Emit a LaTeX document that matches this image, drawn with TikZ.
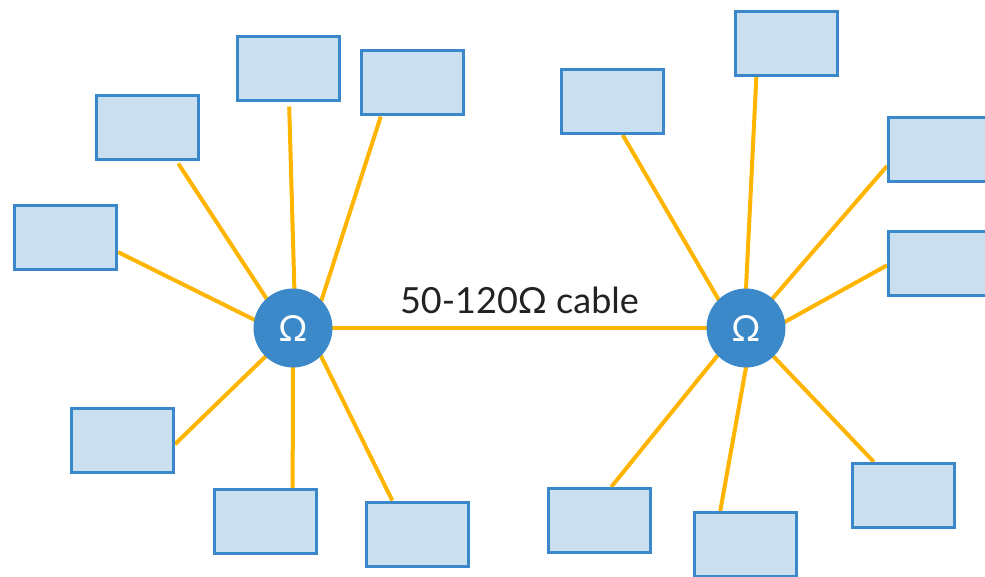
\documentclass[tikz,border=0pt]{standalone}
\usepackage{fontspec}
\setmainfont{Lato}
\pgfdeclarelayer{bg}
\pgfsetlayers{bg,main}
\definecolor{boxfill}{RGB}{202,223,239}
\definecolor{boxline}{RGB}{58,136,201}
\definecolor{hubblue}{RGB}{59,137,201}
\definecolor{wire}{RGB}{255,180,0}
\definecolor{ink}{RGB}{34,34,34}
\tikzset{
  device/.style={rectangle, draw=boxline, fill=boxfill, line width=3pt,
    minimum width=102pt, minimum height=64pt, inner sep=0pt},
  hub/.style={circle, fill=hubblue, minimum size=79pt, inner sep=0pt,
    outer sep=0pt, text=white, font=\fontsize{36}{36}\selectfont},
  wireline/.style={draw=wire, line width=4pt},
}
\begin{document}
\begin{tikzpicture}[x=1pt, y=-1pt]
\useasboundingbox (0,0) rectangle (985,577);

% hubs
\node[hub] (hL) at (293,328) {Ω};
\node[hub] (hR) at (746,328) {Ω};

% left cluster
\node[device] (a) at (65.5,238) {};
\node[device] (b) at (147.5,127.5) {};
\node[device] (c) at (288.5,69) {};
\node[device] (d) at (412,83) {};
\node[device] (e) at (122.5,440.5) {};
\node[device] (f) at (265.5,521.5) {};
\node[device] (g) at (417.5,534) {};

% right cluster
\node[device] (h) at (612.5,101.5) {};
\node[device] (i) at (786.5,43.5) {};
\node[device] (j) at (939.5,150) {};
\node[device] (k) at (939.5,263.5) {};
\node[device] (l) at (599,520.5) {};
\node[device] (m) at (745.5,544.5) {};
\node[device] (n) at (903,495.5) {};

% cable label
\node[anchor=base, inner sep=0pt, text=ink, font=\fontsize{36}{36}\selectfont]
  (lbl) at (519.5,313) {50-120Ω cable};

\begin{pgfonlayer}{bg}
  \draw[wireline, shorten <=-4pt, shorten >=-4pt] (hL.east) -- (hR.west);
  % spokes of the left hub
  \draw[wireline, shorten >=-4pt] (a.-15)  -- (hL.168);
  \draw[wireline, shorten <=3pt, shorten >=-4pt] (b.-49)  -- (hL.132);
  \draw[wireline, shorten <=4pt, shorten >=-4pt] (c.-89)  -- (hL.88);
  \draw[wireline, shorten >=-4pt] (d.227)  -- (hL.44);
  \draw[wireline, shorten >=-4pt] (e.-4)   -- (hL.226);
  \draw[wireline, shorten >=-4pt] (f.51)   -- (hL.270);
  \draw[wireline, shorten >=-4pt] (g.127)  -- (hL.315);
  % spokes of the right hub
  \draw[wireline, shorten >=-4pt] (h.-73)  -- (hR.134);
  \draw[wireline, shorten >=-4pt] (i.228)  -- (hR.90);
  \draw[wireline, shorten >=-4pt] (j.197)  -- (hR.48);
  \draw[wireline, shorten >=-4pt] (k.182)  -- (hR.9);
  \draw[wireline, shorten >=-4pt] (l.70)   -- (hR.224);
  \draw[wireline, shorten >=-4pt] (m.127)  -- (hR.270);
  \draw[wireline, shorten >=-4pt] (n.131)  -- (hR.314);
\end{pgfonlayer}
\end{tikzpicture}
\end{document}
